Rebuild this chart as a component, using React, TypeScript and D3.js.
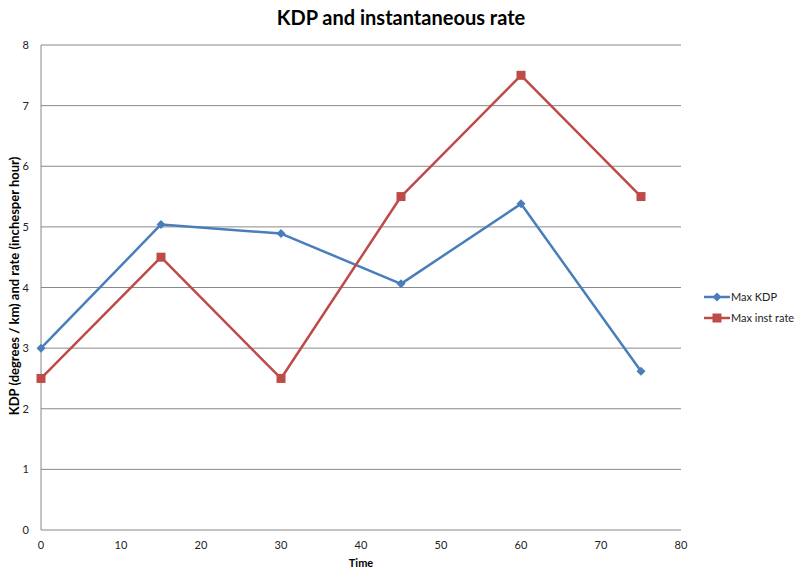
import React from "react";
import * as d3 from "d3";

const times = [0, 15, 30, 45, 60, 75];
const maxKDP = [3, 5.04, 4.89, 4.06, 5.38, 2.62];
const maxInstRate = [2.5, 4.5, 2.5, 5.5, 7.5, 5.5];
const xTicks = [0, 10, 20, 30, 40, 50, 60, 70, 80];
const yTicks = [0, 1, 2, 3, 4, 5, 6, 7, 8];
const seriesNames = ["Max KDP", "Max inst rate"];

const W = 800, H = 575;
const left = 41, right = 681, top = 45, bottom = 530;
const blue = "#4A7EBB", red = "#BE4B48";
const font = "Lato, 'Open Sans', sans-serif";

export default function App() {
  const x = d3.scaleLinear().domain([0, 80]).range([left, right]);
  const y = d3.scaleLinear().domain([0, 8]).range([bottom, top]);
  const line = d3.line<[number, number]>().x(d => x(d[0])).y(d => y(d[1]));
  const kdp: [number, number][] = times.map((t, i) => [t, maxKDP[i]]);
  const rate: [number, number][] = times.map((t, i) => [t, maxInstRate[i]]);
  const diamond = (cx: number, cy: number, r = 4.5) =>
    `M${cx},${cy - r}L${cx + r},${cy}L${cx},${cy + r}L${cx - r},${cy}Z`;
  return (
    <svg width={W} height={H} style={{ position: "absolute", left: 0, top: 0, background: "#fff" }}>
      <rect width={W} height={H} fill="#fff" />
      <text x={401} y={25} textAnchor="middle" fontFamily={font} fontWeight="bold" fontSize={20} fill="#000">
        KDP and instantaneous rate
      </text>
      {yTicks.map(t => (
        <g key={"y" + t}>
          {t > 0 && <line x1={left} x2={right} y1={y(t)} y2={y(t)} stroke="#888" strokeWidth={1} />}
          <text x={29} y={y(t) + 4} textAnchor="end" fontFamily={font} fontSize={11} fill="#222">{t}</text>
        </g>
      ))}
      <line x1={left} x2={left} y1={top} y2={bottom} stroke="#888" strokeWidth={1} />
      <line x1={left} x2={right} y1={bottom} y2={bottom} stroke="#888" strokeWidth={1} />
      {xTicks.map(t => (
        <text key={"x" + t} x={x(t)} y={549} textAnchor="middle" fontFamily={font} fontSize={11} fill="#222">{t}</text>
      ))}
      <text x={361} y={567} textAnchor="middle" fontFamily={font} fontWeight="bold" fontSize={11} fill="#000">Time</text>
      <text transform={`translate(19,${286}) rotate(-90)`} textAnchor="middle" fontFamily={font} fontWeight="bold" fontSize={13} fill="#000">
        KDP (degrees / km) and rate (inchesper hour)
      </text>
      <path d={line(kdp) || ""} fill="none" stroke={blue} strokeWidth={2.5} strokeLinejoin="round" />
      {kdp.map((d, i) => <path key={"k" + i} d={diamond(x(d[0]), y(d[1]))} fill={blue} />)}
      <path d={line(rate) || ""} fill="none" stroke={red} strokeWidth={2.5} strokeLinejoin="round" />
      {rate.map((d, i) => <rect key={"r" + i} x={x(d[0]) - 4.5} y={y(d[1]) - 4.5} width={9} height={9} fill={red} />)}
      <g>
        <line x1={704} x2={730} y1={297} y2={297} stroke={blue} strokeWidth={2.5} />
        <path d={diamond(717, 297)} fill={blue} />
        <text x={731} y={301} fontFamily={font} fontSize={11} fill="#222">{seriesNames[0]}</text>
        <line x1={704} x2={730} y1={318} y2={318} stroke={red} strokeWidth={2.5} />
        <rect x={712.5} y={313.5} width={9} height={9} fill={red} />
        <text x={731} y={322} fontFamily={font} fontSize={11} fill="#222">{seriesNames[1]}</text>
      </g>
    </svg>
  );
}
